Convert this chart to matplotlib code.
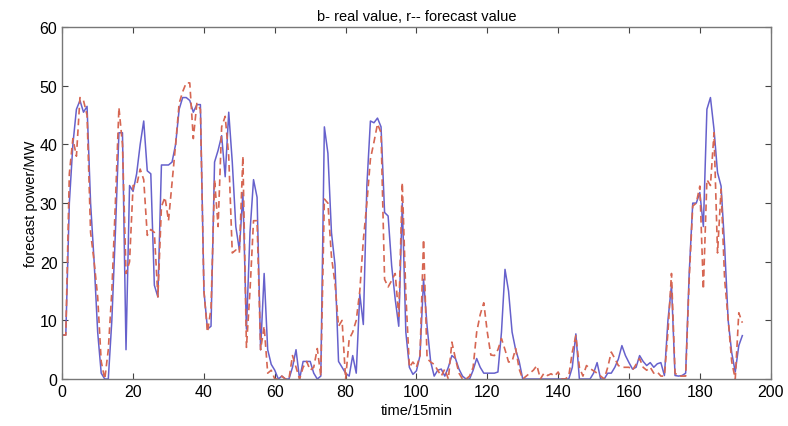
import numpy as np
import matplotlib
matplotlib.use("Agg")
import matplotlib.pyplot as plt

# real power (blue) and forecast power (red), one value per 15 min
real = [7.5, 7.5, 30, 40, 46, 47.5, 45.5, 46.5, 30, 20,
        8, 1, 0, 0, 10, 25, 42, 42, 5, 33,
        32, 35, 40, 44, 35.5, 35, 16, 14, 36.5, 36.5,
        36.5, 37, 40, 46, 48, 48, 47.5, 45.5, 46.8, 46.8,
        15, 8.5, 9, 37, 39, 41.5, 34.5, 45.5, 37, 26,
        22, 31.8, 8.5, 25, 34, 31, 5, 18, 5, 2.5,
        1.5, 0, 0.5, 0, 0, 2, 5, 0, 3, 3,
        3, 1, 0, 0.5, 43, 38.5, 25, 19.5, 3, 2,
        1, 0.5, 4, 1, 14.5, 9.3, 33, 44, 43.7, 44.5,
        43, 28.4, 27.8, 19.3, 13.6, 9, 30, 8, 2, 0.8,
        1.4, 4, 17, 9, 3, 0.5, 1.5, 1.7, 0.5, 2,
        4, 3.5, 1.7, 0.5, 0, 0, 1.5, 3.5, 2, 1,
        1, 1, 1, 1.2, 8, 18.7, 15, 8, 5, 3,
        0, 0, 0, 0, 0, 0, 0, 0, 0, 0,
        0, 0, 0, 0, 2, 7.7, 0, 0, 0, 0,
        1, 2.8, 0, 0, 1, 1, 2, 3.4, 5.7, 4,
        2.8, 1.7, 2, 4, 3, 2.3, 2.8, 2, 2.6, 2.8,
        0.6, 10, 16, 0.6, 0.5, 0.6, 1, 18, 30, 30,
        31.8, 26, 46, 48, 42.6, 35.2, 32.9, 22.7, 10, 4.5,
        1.2, 5.7, 7.4]

forecast = [7.5, 7.5, 35, 41, 38, 48, 47.5, 45, 25, 20,
            14, 3, 0, 5, 15, 30, 46.3, 40, 18, 20,
            33, 33, 35.8, 34, 24.5, 25.5, 25, 14, 29.4, 31,
            27, 33.5, 40, 47, 49, 50.5, 50.5, 41, 47, 46,
            15, 8, 12, 34, 26, 43, 44.8, 38, 21.5, 22,
            21.5, 38, 5.4, 15, 27, 27, 5, 9, 1, 1.5,
            0, 0, 0.5, 0, 0, 4, 2, 0, 2, 3,
            1.5, 2, 5.2, 0.5, 30.7, 30, 20.9, 16.3, 9, 10,
            0, 6.8, 8, 10, 15, 23.7, 30, 37.5, 40.4, 43.5,
            42, 17, 15.7, 16.8, 18, 10.7, 33.5, 14.5, 2, 2.9,
            2, 4, 23.8, 3.5, 2.9, 2.5, 1.5, 0.5, 1.7, 0,
            6.3, 3.5, 1, 0, 0, 0.5, 2, 8, 11, 13,
            8, 4.1, 4, 5, 6.9, 5, 2.9, 3, 5.2, 1.7,
            0, 0.5, 1, 1.5, 2.3, 0, 1, 0.6, 0.9, 0.5,
            1.2, 0, 0, 0.5, 4.6, 7.4, 2, 0.5, 2.3, 1.8,
            1.4, 1, 0.5, 0, 2, 4.6, 3.5, 2.3, 2, 2,
            2, 1.5, 2.5, 3.5, 2, 1.5, 2, 1, 1.2, 0.5,
            0.5, 8, 18, 1, 0.5, 0.5, 0.5, 17, 29.5, 30,
            32.9, 15.3, 34, 33, 42, 21.5, 32.4, 17, 10.2, 3,
            0, 11.3, 9.6]

t = np.arange(len(real))

plt.rcParams['font.family'] = ['Liberation Sans', 'DejaVu Sans']

fig = plt.figure(figsize=(7.88, 4.27), dpi=100)
ax = fig.add_axes([0.079, 0.110, 0.899, 0.824])

ax.plot(t, real, color=(0.40, 0.38, 0.80), lw=1.1)
ax.plot(t, forecast, color=(0.84, 0.40, 0.32), lw=1.2, ls=(0, (4, 2.5)))

ax.set_xlim(0, 200)
ax.set_ylim(0, 60)
ax.set_xticks(range(0, 201, 20))
ax.set_yticks(range(0, 61, 10))
ax.tick_params(direction='in', top=True, right=True, labelsize=11.5, length=4,
               color='#444444', width=0.8)
for s in ax.spines.values():
    s.set_color('#777777')
    s.set_linewidth(1.0)

ax.set_title("b- real value, r-- forecast value", fontsize=10.5, pad=5)
ax.set_xlabel("time/15min", fontsize=10.5, labelpad=3)
ax.set_ylabel("forecast power/MW", fontsize=10.5, labelpad=1)

fig.savefig("out.png", dpi=100)
